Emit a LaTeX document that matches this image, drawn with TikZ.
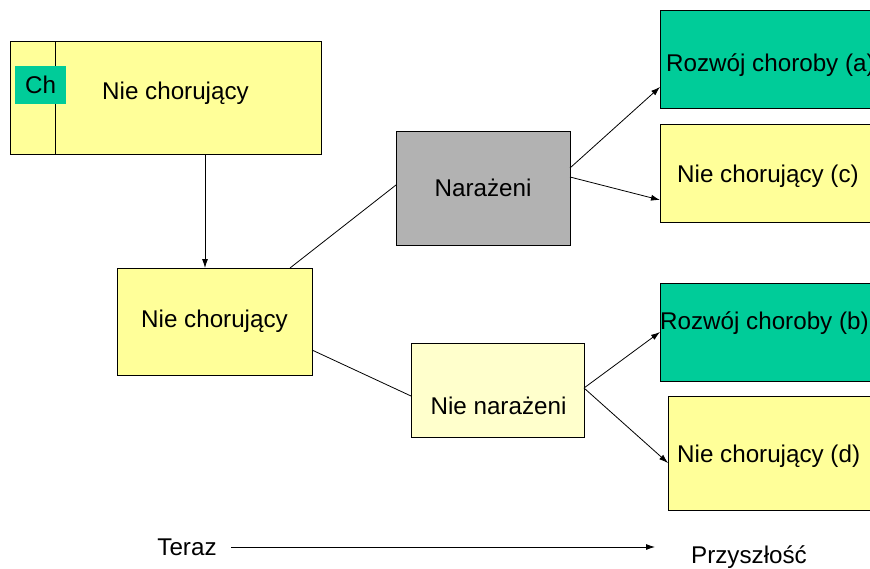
\documentclass[tikz,border=0pt]{standalone}
\usepackage{fontspec}
\setmainfont{Liberation Sans}
\usetikzlibrary{arrows.meta,calc}
\definecolor{boxyellow}{HTML}{FFFF99}
\definecolor{paleyellow}{HTML}{FFFFCC}
\definecolor{boxgreen}{HTML}{00CC99}
\definecolor{boxgray}{HTML}{B2B2B2}
\begin{document}
\begin{tikzpicture}[x=1pt,y=-1pt,
  every node/.style={font=\fontsize{24.2}{29}\selectfont},
  box/.style={draw=black,line width=0.9pt,inner sep=0pt,outer sep=0pt,align=center},
  ybox/.style={box,fill=boxyellow},
  gbox/.style={box,fill=boxgreen},
  conn/.style={draw=black,line width=0.8pt},
  arr/.style={conn,-{Latex[length=9pt,width=6pt]}}]
\useasboundingbox (0,0) rectangle (870,568);
\clip (0,0) rectangle (870,568);
\fill[white] (0,0) rectangle (870,568);
% top box
\node[ybox,minimum width=311pt,minimum height=113pt] (top) at (165.5,97.5) {};
\draw[line width=0.9pt] (55,41) -- (55,154);
\node[fill=boxgreen,inner sep=0pt,minimum width=51pt,minimum height=38pt] (ch) at (40.5,85) {Ch};
\node (toptxt) at (175.5,93) {Nie chorujący};
% middle left
\node[ybox,minimum width=195pt,minimum height=107pt] (box2) at (214.5,321.5) {Nie chorujący};
% exposure boxes
\node[box,fill=boxgray,minimum width=174pt,minimum height=114pt] (nar) at (483,188) {Narażeni};
\node[box,fill=paleyellow,minimum width=173pt,minimum height=94pt] (nn) at (497.5,390) {};
\node (nntxt) at (498.5,406) {Nie narażeni};
% outcome boxes
\node[gbox,minimum width=220pt,minimum height=98pt] (ra) at (770,59) {};
\node[anchor=west,inner sep=0pt] (ratxt) at (666,65) {Rozwój choroby (a)};
\node[ybox,minimum width=220pt,minimum height=98pt] (nc) at (770,173) {};
\node[anchor=west,inner sep=0pt] (nctxt) at (677,176) {Nie chorujący (c)};
\node[gbox,minimum width=220pt,minimum height=98pt] (rb) at (770,332) {};
\node[anchor=west,inner sep=0pt] (rbtxt) at (660,323) {Rozwój choroby (b)};
\node[ybox,minimum width=212pt,minimum height=114pt] (nd) at (774,453) {};
\node[anchor=west,inner sep=0pt] (ndtxt) at (677,456) {Nie chorujący (d)};
% connectors
\coordinate (vx) at (205,0);
\draw[arr] (top.south -| vx) -- (box2.north -| vx);
\draw[conn] ($(box2.north east)+(-22,0)$) -- ($(nar.west)+(0,-3)$);
\draw[conn] ($(box2.south east)+(0,-25)$) -- ($(nn.west)+(0,6)$);
\draw[arr] ($(nar.east)+(0,-20)$) -- ($(ra.south west)+(0,-21)$);
\draw[arr] ($(nar.east)+(0,-11)$) -- ($(nc.west)+(0,27)$);
\draw[arr] ($(nn.east)+(0,-2)$) -- (rb.west);
\draw[arr] ($(nn.east)+(0,-2)$) -- ($(nd.west)+(0,10)$);
% time axis
\node (teraz) at (187,547) {Teraz};
\node (przysz) at (749,557) {Przyszłość};
\coordinate (fut) at (655,547);
\draw[arr] ($(teraz.east)+(11,0)$) -- (fut);
\end{tikzpicture}
\end{document}
